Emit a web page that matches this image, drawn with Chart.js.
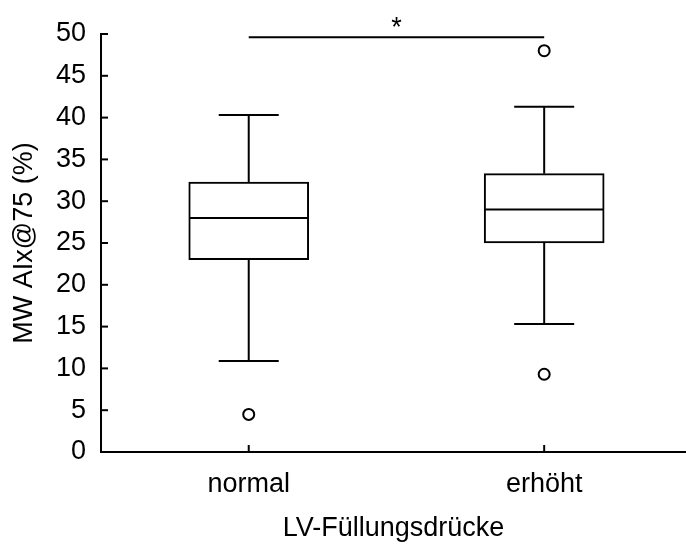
<!DOCTYPE html>
<html>
<head>
<meta charset="utf-8">
<script src="https://cdn.jsdelivr.net/npm/chart.js@4/dist/chart.umd.min.js"></script>
<style>
  body { margin: 0; background: #fff; }
  #wrap { width: 686px; height: 545px; }
</style>
</head>
<body>
<div id="wrap"><canvas id="grafico" width="686" height="545"></canvas></div>
<script>
// Datos del boxplot
const groups = ['normal', 'erhöht'];
const whiskerLow = [10.9, 15.3];
const q1 = [23.0, 25.0];
const median = [28.0, 29.0];
const q3 = [32.3, 33.3];
const whiskerHigh = [40.3, 41.3];
const outliers = [[4.5], [9.3, 48.0]];
const yTicks = [0, 50, 5]; // min, max, paso
const sigPair = [1, 2];
const sigLevel = 49.6;
const sigLabel = '*';

const fontFamily = '"Liberation Sans", Arial, sans-serif';
Chart.defaults.font.family = fontFamily;
Chart.defaults.color = '#000';

const boxData = groups.map((g, i) => ({ x: i + 1, y: [q1[i], q3[i]] }));
const outlierData = [];
outliers.forEach((arr, i) => arr.forEach(v => outlierData.push({ x: i + 1, y: v })));

// Plugin: bigotes, medianas, ticks hacia dentro y marca de significancia
const boxExtras = {
  id: 'boxExtras',
  afterDatasetsDraw(chart) {
    const { ctx, scales: { x, y } } = chart;
    ctx.save();
    ctx.strokeStyle = '#000';
    ctx.lineWidth = 2;
    ctx.lineCap = 'butt';
    const line = (x1, y1, x2, y2) => {
      ctx.beginPath(); ctx.moveTo(x1, y1); ctx.lineTo(x2, y2); ctx.stroke();
    };
    groups.forEach((g, i) => {
      const cx = x.getPixelForValue(i + 1);
      // bigotes
      line(cx, y.getPixelForValue(q3[i]), cx, y.getPixelForValue(whiskerHigh[i]));
      line(cx, y.getPixelForValue(q1[i]), cx, y.getPixelForValue(whiskerLow[i]));
      line(cx - 30, y.getPixelForValue(whiskerHigh[i]), cx + 30, y.getPixelForValue(whiskerHigh[i]));
      line(cx - 30, y.getPixelForValue(whiskerLow[i]), cx + 30, y.getPixelForValue(whiskerLow[i]));
      // mediana
      line(cx - 59, y.getPixelForValue(median[i]), cx + 59, y.getPixelForValue(median[i]));
    });
    // ticks hacia dentro
    const left = chart.chartArea.left, bottom = chart.chartArea.bottom;
    y.ticks.forEach((t, i) => {
      const py = y.getPixelForTick(i);
      line(left, py, left + 7, py);
    });
    x.ticks.forEach((t, i) => {
      const px = x.getPixelForTick(i);
      line(px, bottom, px, bottom - 7);
    });
    // significancia
    const sy = y.getPixelForValue(sigLevel);
    line(x.getPixelForValue(sigPair[0]), sy, x.getPixelForValue(sigPair[1]), sy);
    ctx.fillStyle = '#000';
    ctx.font = '27px ' + fontFamily;
    ctx.textAlign = 'center';
    ctx.textBaseline = 'alphabetic';
    ctx.fillText(sigLabel, x.getPixelForValue((sigPair[0] + sigPair[1]) / 2), sy - 1);
    ctx.restore();
  }
};

new Chart(document.getElementById('grafico'), {
  type: 'bar',
  data: {
    datasets: [{
      type: 'bar',
      data: boxData,
      backgroundColor: '#fff',
      borderColor: '#000',
      borderWidth: 2,
      borderSkipped: false,
      barThickness: 120
    }, {
      type: 'scatter',
      data: outlierData,
      pointStyle: 'circle',
      pointRadius: 5.5,
      pointHoverRadius: 5.5,
      pointBackgroundColor: '#fff',
      pointBorderColor: '#000',
      pointBorderWidth: 2
    }]
  },
  options: {
    responsive: false,
    animation: false,
    layout: { autoPadding: false, padding: { top: 34, left: 0, right: 0, bottom: 0 } },
    plugins: { legend: { display: false }, tooltip: { enabled: false } },
    scales: {
      x: {
        type: 'linear',
        offset: false,
        min: 0.5,
        max: 2.48,
        afterFit: (s) => { s.height = 93; },
        grid: { display: false, drawTicks: false },
        border: { display: true, color: '#000', width: 2 },
        ticks: {
          stepSize: 1,
          includeBounds: false,
          padding: 16,
          font: { size: 27 },
          callback: (v) => groups[v - 1] ?? ''
        },
        title: {
          display: true,
          text: 'LV-Füllungsdrücke',
          font: { size: 27 },
          padding: { top: 0, bottom: 0 }
        }
      },
      y: {
        min: yTicks[0],
        max: yTicks[1],
        afterFit: (s) => { s.width = 101; },
        grid: { display: false, drawTicks: false },
        border: { display: true, color: '#000', width: 2 },
        ticks: { stepSize: yTicks[2], padding: 15, font: { size: 27 } },
        title: {
          display: true,
          text: 'MW AIx@75 (%)',
          font: { size: 27 },
          padding: { top: 8, bottom: 0 }
        }
      }
    }
  },
  plugins: [boxExtras]
});
</script>
</body>
</html>
